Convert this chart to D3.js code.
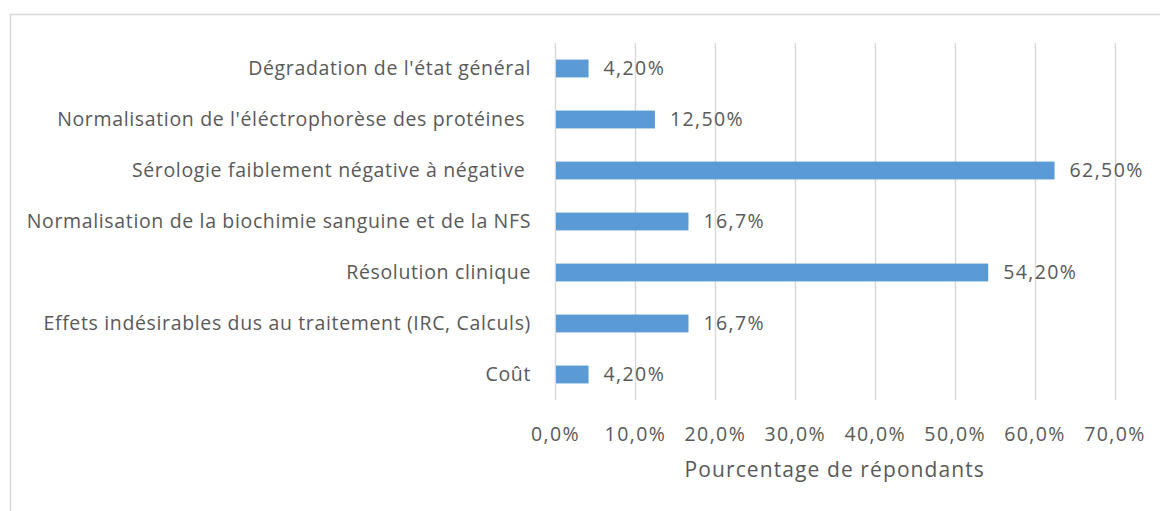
<!DOCTYPE html>
<html>
<head>
<meta charset="utf-8">
<script src="https://cdn.jsdelivr.net/npm/d3@7"></script>
<style>
  body { margin: 0; background: white; }
  svg text { font-family: "Open Sans", "Liberation Sans", sans-serif; fill: #595959; white-space: pre; }
</style>
</head>
<body>
<div id="chart"></div>
<script>
const categories = [
    "Dégradation de l'état général",
    "Normalisation de l'éléctrophorèse des protéines ",
    "Sérologie faiblement négative à négative ",
    "Normalisation de la biochimie sanguine et de la NFS",
    "Résolution clinique",
    "Effets indésirables dus au traitement (IRC, Calculs)",
    "Coût"
]
const values = [4.2, 12.5, 62.5, 16.7, 54.2, 16.7, 4.2]
const valueLabels = ["4,20%", "12,50%", "62,50%", "16,7%", "54,20%", "16,7%", "4,20%"]
const tickValues = [0, 10, 20, 30, 40, 50, 60, 70]

const WIDTH = 1160
const HEIGHT = 511
const BAR_COLOR = "#5b9bd5"
const GRID_COLOR = "#d9d9d9"
const FONT_SIZE = 19.5

let svg = d3.select("#chart").append("svg")
    .attr("width", WIDTH)
    .attr("height", HEIGHT)

// outer chart border (runs off the right and bottom edge)
svg.append("rect")
    .attr("x", 10.5)
    .attr("y", 14.5)
    .attr("width", WIDTH)
    .attr("height", HEIGHT)
    .attr("fill", "white")
    .attr("stroke", GRID_COLOR)
    .attr("stroke-width", 1.5)

let x = d3.scaleLinear().domain([0, 70]).range([555, 1114.5])
let y = d3.scaleBand().domain(categories).range([43, 400]).paddingInner(0.65).paddingOuter(0.325)

// gridlines
svg.append("g")
    .selectAll("line")
    .data(tickValues)
    .join("line")
    .attr("x1", d => Math.round(x(d)) + 0.5)
    .attr("x2", d => Math.round(x(d)) + 0.5)
    .attr("y1", 43)
    .attr("y2", 400)
    .attr("stroke", GRID_COLOR)
    .attr("stroke-width", 1.5)

// x axis tick labels
let xAxis = d3.axisBottom(x)
    .tickValues(tickValues)
    .tickSize(0)
    .tickPadding(0)
    .tickFormat(d => d.toFixed(1).replace(".", ",") + "%")
let axisG = svg.append("g")
    .attr("transform", "translate(0, 427)")
    .call(xAxis)
axisG.select(".domain").remove()
axisG.selectAll("text")
    .attr("font-size", FONT_SIZE)
    .attr("letter-spacing", 1.4)
    .attr("font-family", null)
    .attr("fill", null)

// category labels
svg.append("g")
    .selectAll("text")
    .data(categories)
    .join("text")
    .attr("x", 531)
    .attr("y", d => y(d) + y.bandwidth() / 2)
    .attr("dy", "0.35em")
    .attr("text-anchor", "end")
    .attr("font-size", FONT_SIZE)
    .attr("letter-spacing", 0.65)
    .text(d => d)

// bars
svg.append("g")
    .selectAll("rect")
    .data(values)
    .join("rect")
    .attr("x", x(0) + 1)
    .attr("y", (d, i) => y(categories[i]))
    .attr("width", d => x(d) - x(0) - 1)
    .attr("height", y.bandwidth())
    .attr("fill", BAR_COLOR)

// value labels
svg.append("g")
    .selectAll("text")
    .data(values)
    .join("text")
    .attr("x", d => x(d) + 15)
    .attr("y", (d, i) => y(categories[i]) + y.bandwidth() / 2)
    .attr("dy", "0.35em")
    .attr("font-size", FONT_SIZE)
    .attr("letter-spacing", 1.4)
    .text((d, i) => valueLabels[i])

// axis title
svg.append("text")
    .attr("x", (x(0) + x(70)) / 2)
    .attr("y", 470)
    .attr("dy", "0.35em")
    .attr("text-anchor", "middle")
    .attr("font-size", 21)
    .attr("letter-spacing", 1.1)
    .text("Pourcentage de répondants")
</script>
</body>
</html>
